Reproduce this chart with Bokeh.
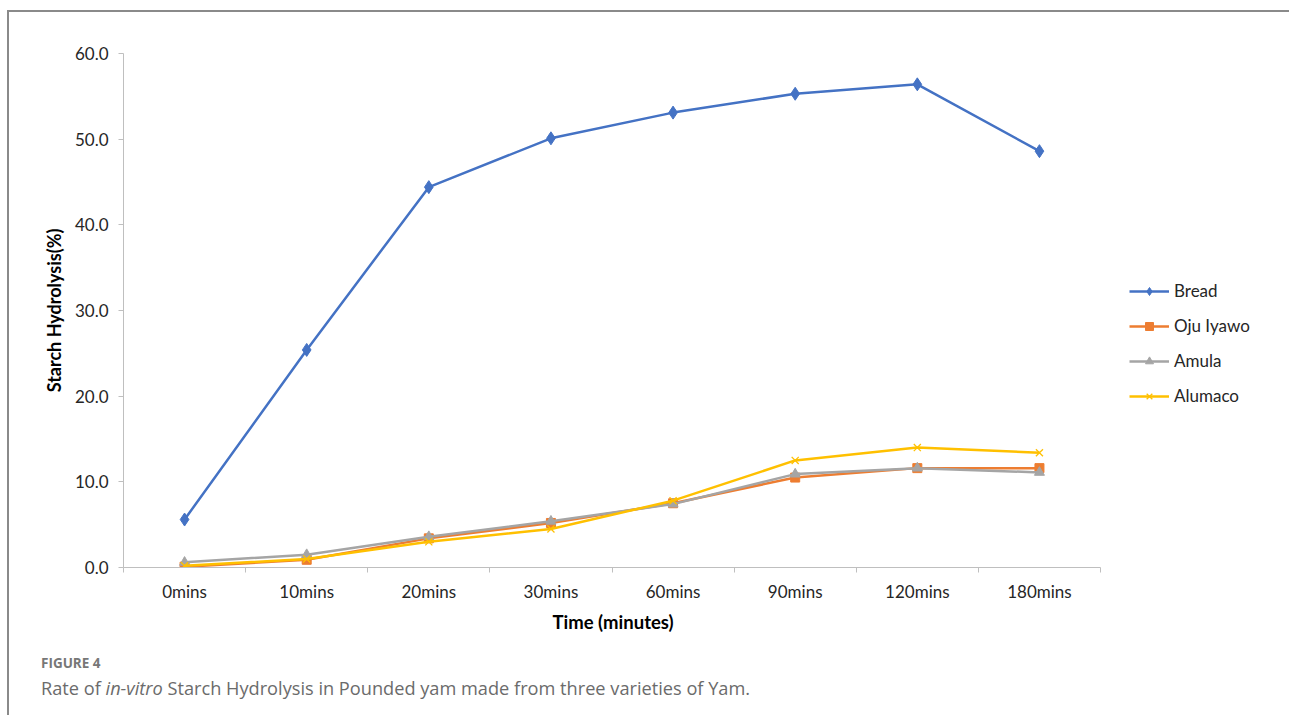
from bokeh.plotting import figure
from bokeh.models import (FixedTicker, PrintfTickFormatter, Legend, LegendItem,
                          Range1d, Div, Column, Title)
from bokeh.embed import file_html
from bokeh.resources import INLINE

categories = ["0mins", "10mins", "20mins", "30mins", "60mins", "90mins", "120mins", "180mins"]
bread = [5.6, 25.4, 44.4, 50.1, 53.1, 55.3, 56.4, 48.6]
oju_iyawo = [0.1, 0.9, 3.4, 5.2, 7.5, 10.5, 11.6, 11.6]
amula = [0.6, 1.5, 3.6, 5.4, 7.4, 10.9, 11.6, 11.1]
alumaco = [0.2, 1.0, 3.0, 4.5, 7.8, 12.5, 14.0, 13.4]
y_ticks = [0, 10, 20, 30, 40, 50, 60]

# window geometry (px)
OX, OY = 9, 12            # figure origin inside bordered container
AX_L, AX_R = 123, 1100    # x-axis extent
AX_T, AX_B = 53, 567      # y-axis extent (60 .. 0)
FIG_W, FIG_H = 1280, 633

n = len(categories)
ppx = (AX_R - AX_L) / n          # px per category
x_hi = -0.5 + (OX + FIG_W - AX_L) / ppx

xs = list(range(n))
p = figure(width=FIG_W, height=FIG_H, output_backend="svg", toolbar_location=None,
           x_range=Range1d(-0.5, x_hi), y_range=Range1d(0, 60),
           min_border_left=AX_L - OX, min_border_right=0, min_border_top=AX_T - OY,
           min_border_bottom=FIG_H - (AX_B - OY))
p.outline_line_color = None
p.grid.visible = False
p.background_fill_color = "white"
p.border_fill_color = "white"

FONT = "Lato"
axis_col = "#bfbfbf"
text_col = "#262626"

# x axis
p.xaxis.bounds = (-0.5, n - 0.5)
p.xaxis.ticker = FixedTicker(ticks=xs, minor_ticks=[i - 0.5 for i in range(n + 1)])
p.xaxis.major_label_overrides = {i: c for i, c in enumerate(categories)}
p.xaxis.major_tick_out = 0
p.xaxis.major_tick_in = 0
p.xaxis.minor_tick_out = 5
p.xaxis.minor_tick_in = 0
p.xaxis.minor_tick_line_color = axis_col
p.xaxis.axis_line_color = axis_col
p.xaxis.major_label_standoff = 8

# x-axis title centred under the axis (not under the extended frame)
x_title = Title(text="Time (minutes)", align="left", offset=552 - AX_L,
                vertical_align="top", standoff=12, text_font=FONT,
                text_font_size="18.5px", text_font_style="bold", text_color="black")
p.add_layout(x_title, "below")

# y axis
p.yaxis.ticker = FixedTicker(ticks=y_ticks, minor_ticks=[])
p.yaxis.formatter = PrintfTickFormatter(format="%.1f")
p.yaxis.major_tick_out = 5
p.yaxis.major_tick_in = 0
p.yaxis.major_tick_line_color = axis_col
p.yaxis.axis_line_color = axis_col
p.yaxis.major_label_standoff = 10
p.yaxis.axis_label = "Starch Hydrolysis(%)"
p.yaxis.axis_label_standoff = 7
p.yaxis.axis_label_text_font = FONT
p.yaxis.axis_label_text_font_size = "18px"
p.yaxis.axis_label_text_font_style = "bold"
p.yaxis.axis_label_text_color = "black"

for ax in (p.xaxis, p.yaxis):
    ax.major_label_text_font = FONT
    ax.major_label_text_font_size = "17px"
    ax.major_label_text_color = text_col

series = [
    ("Bread", bread, "#4472C4", "diamond", 13),
    ("Oju Iyawo", oju_iyawo, "#ED7D31", "square", 9),
    ("Amula", amula, "#A5A5A5", "triangle", 10),
    ("Alumaco", alumaco, "#FFC000", "x", 10),
]
items = []
for name, vals, col, marker, size in series:
    r1 = p.line(xs, vals, line_color=col, line_width=2.5)
    if marker == "x":
        r2 = p.scatter(xs, vals, marker="x", size=size, line_color=col, line_width=1.3)
    else:
        r2 = p.scatter(xs, vals, marker=marker, size=size, fill_color=col, line_color=col)
    items.append(LegendItem(label=name, renderers=[r1, r2]))

legend = Legend(items=items, location=(1129 - AX_L, AX_B - 406), padding=0, margin=0,
                spacing=14, glyph_width=40, glyph_height=20, label_height=20,
                label_standoff=5, label_text_font=FONT, label_text_font_size="17px",
                label_text_color=text_col, border_line_color=None,
                background_fill_alpha=0)
p.add_layout(legend, "center")

caption_html = (
    "<div style=\"font-family:'Open Sans',sans-serif; padding-left:32px; padding-top:10px;\">"
    "<div style='font-size:13.5px; font-weight:bold; color:#777777; line-height:16px;'>FIGURE 4</div>"
    "<div style='font-size:18.2px; color:#6b6b6b; line-height:22px; margin-top:6px;'>"
    "Rate of <i>in-vitro</i> Starch Hydrolysis in Pounded yam made from three varieties of Yam."
    "</div></div>"
)
caption = Div(text=caption_html, width=FIG_W, height=70, margin=0)

layout = Column(children=[p, caption], margin=(10, 0, 0, 7), spacing=0,
                styles={"border-top": "2px solid #8a8a8a",
                        "border-left": "2px solid #8a8a8a"})

open("out.html", "w").write(file_html(layout, INLINE))
